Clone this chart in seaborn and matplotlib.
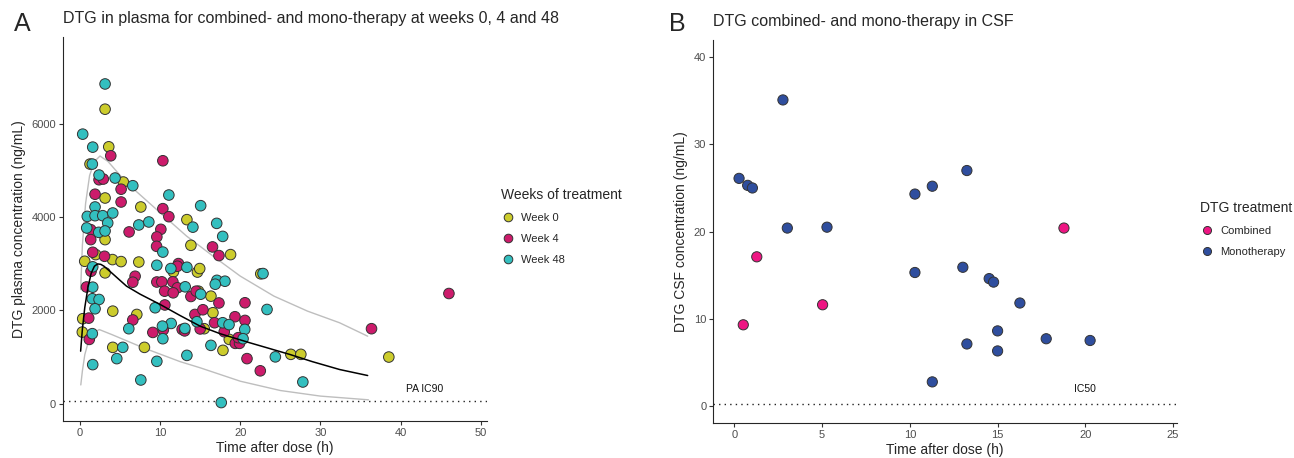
import numpy as np
import pandas as pd
import matplotlib
matplotlib.use("Agg")
import matplotlib.pyplot as plt
from matplotlib.lines import Line2D
import seaborn as sns

# ---- panel A data: DTG plasma concentration (ng/mL) vs time after dose (h)
wk0_time = [3.13, 3.59, 1.25, 5.41, 3.13, 7.59, 13.34, 3.13, 13.84, 18.79, 0.59, 4.06,
            5.13, 7.34, 1.96, 3.13, 14.66, 14.94, 11.66, 22.56, 14.79, 16.34, 4.09, 7.09,
            0.34, 0.29, 16.59, 15.5, 18.63, 17.84, 4.09, 8.04, 26.31, 27.56, 38.54]
wk0_conc = [6324, 5516, 5145, 4759, 4416, 4223, 3951, 3522, 3400, 3200, 3057, 3093,
            3050, 3040, 3200, 2808, 2825, 2900, 2830, 2787, 2414, 2307, 1985, 1914,
            1822, 1535, 1951, 1608, 1378, 1143, 1207, 1207, 1057, 1057, 999]

wk4_time = [3.84, 10.34, 2.38, 2.91, 5.13, 1.88, 5.13, 10.34, 11.09, 1.34, 1.34, 6.13,
            10.09, 9.59, 1.59, 3.06, 16.54, 17.34, 9.56, 12.29, 12.16, 1.38, 6.88, 6.59,
            9.59, 10.21, 11.59, 12.16, 10.56, 11.63, 0.81, 20.59, 13.84, 17.34, 10.59,
            14.34, 15.34, 19.34, 20.59, 16.79, 1.09, 6.59, 9.09, 10.4, 12.75, 13.06, 15.0,
            18.0, 19.38, 19.91, 19.75, 1.16, 20.84, 22.5, 36.38, 46.04, 14.5]
wk4_conc = [5323, 5216, 4808, 4823, 4605, 4497, 4330, 4187, 4015, 3736, 3522, 3687,
            3743, 3580, 3250, 3164, 3365, 3179, 3378, 3007, 2950, 2842, 2735, 2607,
            2611, 2615, 2615, 2487, 2414, 2379, 2504, 2165, 2300, 2161, 2118,
            1914, 2015, 1865, 1786, 1736, 1835, 1796, 1528, 1584, 1593, 1561, 1603,
            1543, 1293, 1293, 1415, 1378, 965, 703, 1608, 2364, 2414]

wk48_time = [3.13, 0.34, 1.59, 1.54, 2.38, 4.38, 6.59, 11.09, 1.88, 0.91, 1.88, 2.84,
             4.09, 3.46, 0.84, 2.34, 3.13, 7.34, 8.59, 15.06, 14.09, 17.06, 17.81, 10.34,
             1.59, 9.59, 11.34, 13.34, 17.09, 18.09, 16.88, 13.13, 15.06, 1.59, 1.54, 2.38,
             1.88, 9.38, 11.38, 10.29, 10.34, 13.09, 14.59, 17.81, 18.6, 20.56, 20.35,
             23.34, 24.38, 1.54, 6.09, 5.34, 4.59, 9.59, 13.34, 16.34, 1.59, 7.59, 17.63,
             22.84, 27.81]
wk48_conc = [6866, 5788, 5509, 5145, 4909, 4845, 4680, 4480, 4223, 4021, 4036, 4036,
             4094, 3880, 3773, 3678, 3708, 3837, 3901, 4251, 3790, 3871, 3591, 3254,
             2937, 2971, 2900, 2928, 2647, 2628, 2564, 2508, 2349, 2500, 2251, 2236,
             2036, 2058, 1721, 1663, 1393, 1614, 1758, 1736, 1696, 1593, 1393,
             2021, 1003, 1501, 1608, 1207, 965, 907, 1035, 1250, 836, 506, 21,
             2793, 463]

# model curves (median and 90% interval)
med_time = [0.08, 0.3, 0.6, 1.0, 1.4, 1.8, 2.2, 2.6, 3.0, 4.0, 5.8, 7.5, 10.0, 12.5,
            15.0, 17.5, 21.2, 23.5, 26.2, 29.0, 32.4, 35.9]
med_conc = [1125, 1600, 2065, 2500, 2800, 2950, 3000, 2990, 2950, 2800, 2523, 2350,
            2129, 1890, 1662, 1500, 1305, 1190, 1054, 900, 731, 602]
hi_time = [0.08, 0.3, 0.7, 1.2, 1.8, 2.5, 3.5, 5.8, 10.0, 13.3, 16.6, 20.0, 24.2,
           28.4, 32.4, 35.9]
hi_conc = [2450, 3400, 4300, 4900, 5200, 5318, 5200, 4746, 4101, 3598, 3168, 2738,
           2308, 1985, 1735, 1447]
lo_time = [0.1, 0.3, 0.6, 1.0, 1.5, 2.4, 4.0, 7.9, 12.5, 15.0, 20.0, 25.0, 30.0, 36.0]
lo_conc = [400, 700, 1050, 1300, 1500, 1590, 1480, 1198, 900, 768, 480, 280, 160, 80]

pa_ic90 = 64

# ---- panel B data: DTG CSF concentration (ng/mL)
comb_time = [0.51, 1.28, 5.03, 18.78]
comb_conc = [9.3, 17.1, 11.6, 20.4]
mono_time = [0.27, 0.76, 1.03, 2.77, 3.02, 5.28, 10.29, 11.28, 13.25, 10.29, 13.02,
             14.52, 14.77, 13.25, 11.28, 15.0, 15.0, 16.27, 17.77, 20.27]
mono_conc = [26.1, 25.3, 25.0, 35.1, 20.4, 20.5, 24.3, 25.2, 27.0, 15.3, 15.9,
             14.6, 14.2, 7.1, 2.75, 8.6, 6.3, 11.8, 7.7, 7.5]
ic50 = 0.2

week_labels = ["Week 0", "Week 4", "Week 48"]
week_colors = ["#CCCC2C", "#CC1B6B", "#33BFBF"]
treat_labels = ["Combined", "Monotherapy"]
treat_colors = ["#EE1683", "#2F4E9E"]

plasma = pd.DataFrame({
    "time": wk0_time + wk4_time + wk48_time,
    "conc": wk0_conc + wk4_conc + wk48_conc,
    "week": [week_labels[0]] * len(wk0_time) + [week_labels[1]] * len(wk4_time)
            + [week_labels[2]] * len(wk48_time),
})
csf = pd.DataFrame({
    "time": comb_time + mono_time,
    "conc": comb_conc + mono_conc,
    "treat": [treat_labels[0]] * len(comb_time) + [treat_labels[1]] * len(mono_time),
})

sns.set_style("ticks")
plt.rcParams["font.family"] = ["Liberation Sans", "DejaVu Sans"]
plt.rcParams["axes.linewidth"] = 0.8

fig = plt.figure(figsize=(12.94, 4.58), dpi=100)
ax1 = fig.add_axes([0.0485, 0.0808, 0.3279, 0.8384])
ax2 = fig.add_axes([0.5512, 0.0758, 0.3581, 0.8373])

# panel A
ax1.axhline(pa_ic90, color="#222222", lw=1.0, ls=(0, (1, 3)), zorder=1)
sns.lineplot(x=hi_time, y=hi_conc, ax=ax1, color="#BEBEBE", lw=1.0, sort=False,
             estimator=None, zorder=2)
sns.lineplot(x=lo_time, y=lo_conc, ax=ax1, color="#BEBEBE", lw=1.0, sort=False,
             estimator=None, zorder=2)
sns.scatterplot(data=plasma, x="time", y="conc", hue="week", hue_order=week_labels,
                palette=week_colors, s=58, edgecolor="#333333", linewidth=0.7,
                legend=False, ax=ax1, zorder=3)
sns.lineplot(x=med_time, y=med_conc, ax=ax1, color="black", lw=1.1, sort=False,
             estimator=None, zorder=4)
ax1.text(43.0, 306, "PA IC90", fontsize=7.5, ha="center", va="center", color="#111111")
ax1.set_xlim(-2.15, 50.8)
ax1.set_ylim(-375, 7875)
ax1.set_xticks([0, 10, 20, 30, 40, 50])
ax1.set_yticks([0, 2000, 4000, 6000])
ax1.set_xlabel("Time after dose (h)", fontsize=10, labelpad=2)
ax1.set_ylabel("DTG plasma concentration (ng/mL)", fontsize=10, labelpad=4)
ax1.set_title("DTG in plasma for combined- and mono-therapy at weeks 0, 4 and 48",
              loc="left", fontsize=11.5, pad=10)

# panel B
ax2.axhline(ic50, color="#222222", lw=1.0, ls=(0, (1, 3)), zorder=1)
sns.scatterplot(data=csf, x="time", y="conc", hue="treat", hue_order=treat_labels,
                palette=treat_colors, s=54, edgecolor="#333333", linewidth=0.7,
                legend=False, ax=ax2, zorder=3)
ax2.text(20.0, 1.9, "IC50", fontsize=7.5, ha="center", va="center", color="#111111")
ax2.set_xlim(-1.2, 25.2)
ax2.set_ylim(-2, 42)
ax2.set_xticks([0, 5, 10, 15, 20, 25])
ax2.set_yticks([0, 10, 20, 30, 40])
ax2.set_xlabel("Time after dose (h)", fontsize=10, labelpad=2)
ax2.set_ylabel("DTG CSF concentration (ng/mL)", fontsize=10, labelpad=4)
ax2.set_title("DTG combined- and mono-therapy in CSF", loc="left", fontsize=11.5, pad=10)

for ax in (ax1, ax2):
    sns.despine(ax=ax)
    ax.tick_params(labelsize=8, labelcolor="#4D4D4D", color="#333333",
                   length=3, width=0.8, pad=2)
    ax.set_facecolor("white")

# legends
h1 = [Line2D([], [], marker="o", ls="", markersize=6.2, markerfacecolor=c,
             markeredgecolor="#333333", markeredgewidth=0.7) for c in week_colors]
leg1 = fig.legend(h1, week_labels, loc="upper left", bbox_to_anchor=(0.383, 0.602),
                  frameon=False, fontsize=8, title="Weeks of treatment",
                  title_fontsize=10, alignment="left", labelspacing=1.0,
                  handletextpad=0.6, borderpad=0, handlelength=1.2)
h2 = [Line2D([], [], marker="o", ls="", markersize=5.8, markerfacecolor=c,
             markeredgecolor="#333333", markeredgewidth=0.7) for c in treat_colors]
leg2 = fig.legend(h2, treat_labels, loc="upper left", bbox_to_anchor=(0.923, 0.574),
                  frameon=False, fontsize=8, title="DTG treatment",
                  title_fontsize=10, alignment="left", labelspacing=1.0,
                  handletextpad=0.6, borderpad=0, handlelength=1.2)

fig.text(0.011, 0.947, "A", fontsize=18, va="center", ha="left")
fig.text(0.517, 0.947, "B", fontsize=18, va="center", ha="left")

fig.savefig("out.png", dpi=100, facecolor="white")
